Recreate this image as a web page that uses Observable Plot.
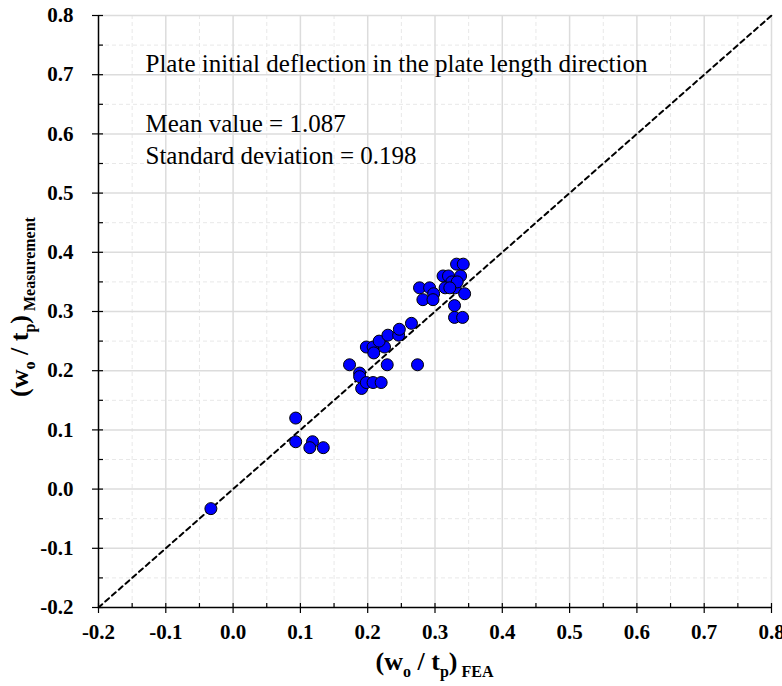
<!DOCTYPE html>
<html><head><meta charset="utf-8">
<script src="https://cdn.jsdelivr.net/npm/d3@7"></script>
<script src="https://cdn.jsdelivr.net/npm/@observablehq/plot@0.6"></script>
<style>body{margin:0;background:#fff;} #chart svg{display:block;overflow:visible;} #chart svg text{font-family:'Liberation Serif','Times New Roman',serif !important;}</style>
</head><body><div id="chart"></div>
<script>
const feaValues = [-0.033, 0.093, 0.093, 0.118, 0.114, 0.134, 0.173, 0.188, 0.188, 0.191, 0.198, 0.208, 0.220, 0.198, 0.208, 0.209, 0.225, 0.217, 0.229, 0.230, 0.246, 0.247, 0.265, 0.274, 0.277, 0.282, 0.292, 0.298, 0.297, 0.312, 0.320, 0.338, 0.325, 0.315, 0.330, 0.344, 0.329, 0.329, 0.341, 0.332, 0.342, 0.333, 0.322];
const measValues = [-0.033, 0.12, 0.08, 0.08, 0.07, 0.07, 0.21, 0.196, 0.19, 0.17, 0.18, 0.18, 0.18, 0.24, 0.24, 0.23, 0.24, 0.25, 0.21, 0.26, 0.26, 0.27, 0.28, 0.21, 0.34, 0.32, 0.34, 0.33, 0.32, 0.36, 0.36, 0.36, 0.35, 0.34, 0.34, 0.33, 0.31, 0.29, 0.29, 0.38, 0.38, 0.35, 0.34];
const majorTicks = [-0.2, -0.1, 0, 0.1, 0.2, 0.3, 0.4, 0.5, 0.6, 0.7, 0.8];
const minorTicks = [-0.15, -0.05, 0.05, 0.15, 0.25, 0.35, 0.45, 0.55, 0.65, 0.75];
const tickLabels = ["-0.2", "-0.1", "0.0", "0.1", "0.2", "0.3", "0.4", "0.5", "0.6", "0.7", "0.8"];
const diagonal = [-0.2, 0.8];
const annotationLines = ["Plate initial deflection in the plate length direction", "Mean value = 1.087", "Standard deviation = 0.198"];

const W = 782, H = 686, mL = 98, mR = 11, mT = 15, mB = 79;
const plotW = W - mL - mR, plotH = H - mT - mB;
const serif = "'Liberation Serif', 'Times New Roman', serif";
const data = feaValues.map((x, i) => ({x, y: measValues[i]}));
const fmt = d => tickLabels[majorTicks.indexOf(d)];

const plot = Plot.plot({
  width: W, height: H, marginLeft: mL, marginRight: mR, marginTop: mT, marginBottom: mB,
  x: {domain: [-0.2, 0.8]},
  y: {domain: [-0.2, 0.8]},
  style: {background: "#fff", color: "#000", overflow: "visible"},
  marks: [
    Plot.ruleX(minorTicks, {stroke: "#e8e8e8", strokeDasharray: "4,3", strokeWidth: 1}),
    Plot.ruleY(minorTicks, {stroke: "#e8e8e8", strokeDasharray: "4,3", strokeWidth: 1}),
    Plot.ruleX(majorTicks.slice(1), {stroke: "#dcdcdc", strokeWidth: 1.5}),
    Plot.ruleY(majorTicks.slice(1), {stroke: "#dcdcdc", strokeWidth: 1.5}),
    Plot.line(diagonal, {x: d => d, y: d => d, stroke: "#000", strokeWidth: 2, strokeDasharray: "5,4"}),
    Plot.dot(data, {x: "x", y: "y", r: 6, fill: "#0000ff", stroke: "#000", strokeWidth: 1}),
    Plot.ruleX([-0.2], {stroke: "#000", strokeWidth: 1.5}),
    Plot.ruleY([-0.2], {stroke: "#000", strokeWidth: 1.5}),
    Plot.tickX(majorTicks.concat(minorTicks), {x: d => d, stroke: "#000", strokeWidth: 1.2, insetTop: plotH - 4}),
    Plot.tickY(majorTicks.concat(minorTicks), {y: d => d, stroke: "#000", strokeWidth: 1.2, insetRight: plotW - 5}),
    Plot.axisX(majorTicks, {tickSize: 6, tickPadding: 11, tickFormat: fmt, fontSize: 21, fontWeight: "bold", label: null, strokeWidth: 1.2}),
    Plot.axisY(majorTicks, {tickSize: 6, tickPadding: 19, tickFormat: fmt, fontSize: 21, fontWeight: "bold", label: null, strokeWidth: 1.2}),
    Plot.text([annotationLines[0]], {text: d => d, frameAnchor: "top-left", dx: 47, dy: 48, fontSize: 25, textAnchor: "start", lineAnchor: "middle"}),
    Plot.text([annotationLines[1]], {text: d => d, frameAnchor: "top-left", dx: 47, dy: 108, fontSize: 25, textAnchor: "start", lineAnchor: "middle"}),
    Plot.text([annotationLines[2]], {text: d => d, frameAnchor: "top-left", dx: 47, dy: 140, fontSize: 25, textAnchor: "start", lineAnchor: "middle"})
  ]
});

const svg = d3.select(plot);

function addLabel(g, sub) {
  const t = g.append("text").style("font-family", serif).style("font-weight", "bold").style("font-size", "26px").attr("text-anchor", "middle").attr("fill", "#000");
  t.append("tspan").text("(w");
  t.append("tspan").style("font-size", "16px").attr("dy", 7).text("o");
  t.append("tspan").attr("dy", -7).text(" / t");
  t.append("tspan").style("font-size", "16px").attr("dy", 7).text("p");
  t.append("tspan").attr("dy", -7).text(")");
  t.append("tspan").style("font-size", "16px").attr("dy", 7).text(" " + sub);
  return t;
}
addLabel(svg.append("g").attr("transform", `translate(${mL + plotW / 2},${H - 16})`), "FEA");
addLabel(svg.append("g").attr("transform", `translate(28,${mT + plotH / 2 - 4}) rotate(-90)`), "Measurement");

document.getElementById("chart").appendChild(plot);
</script>
</body></html>
